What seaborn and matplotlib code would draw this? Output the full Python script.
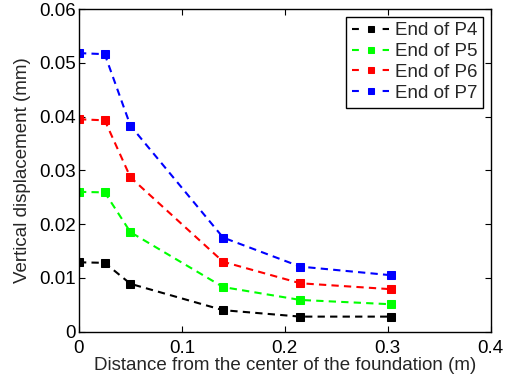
import matplotlib
matplotlib.use("Agg")
import matplotlib.pyplot as plt
import seaborn as sns
import pandas as pd

distance = [0.0, 0.025, 0.05, 0.14, 0.215, 0.303]
p4 = [0.0129, 0.0128, 0.0089, 0.0040, 0.0028, 0.0028]
p5 = [0.0260, 0.0259, 0.0185, 0.0083, 0.0059, 0.0051]
p6 = [0.0395, 0.0393, 0.0287, 0.0130, 0.0090, 0.0079]
p7 = [0.0518, 0.0516, 0.0383, 0.0175, 0.0121, 0.0105]
series_names = ["End of P4", "End of P5", "End of P6", "End of P7"]
colors = ["#000000", "#00ff00", "#ff0000", "#0000ff"]
x_ticks = [0, 0.1, 0.2, 0.3, 0.4]
y_ticks = [0, 0.01, 0.02, 0.03, 0.04, 0.05, 0.06]

sns.set_style("ticks")
plt.rcParams["font.family"] = ["Liberation Sans", "DejaVu Sans"]

FS = 13.5
fig = plt.figure(figsize=(5.08, 3.83), dpi=100)
ax = fig.add_axes([0.1555, 0.134, 0.8105, 0.8425])

for name, vals, c in zip(series_names, [p4, p5, p6, p7], colors):
    df = pd.DataFrame({"x": distance, "y": vals})
    sns.lineplot(data=df, x="x", y="y", ax=ax, color=c, linestyle=(0, (3.5, 2.5)),
                 linewidth=1.5, marker="s", markersize=6, markeredgecolor=c,
                 markerfacecolor=c, label=name)

ax.set_xlim(0, 0.4)
ax.set_ylim(0, 0.06)
ax.set_xticks(x_ticks)
ax.set_xticklabels(["0", "0.1", "0.2", "0.3", "0.4"])
ax.set_yticks(y_ticks)
ax.set_yticklabels(["0", "0.01", "0.02", "0.03", "0.04", "0.05", "0.06"])
ax.tick_params(direction="in", top=True, right=True, length=4, width=0.8,
               labelsize=FS, colors="black")
ax.tick_params(axis="x", pad=6)
ax.tick_params(axis="y", pad=2)
for s in ax.spines.values():
    s.set_visible(True)
    s.set_linewidth(1.0)
    s.set_color("black")
ax.set_xlabel("Distance from the center of the foundation (m)", fontsize=FS, labelpad=0)
ax.set_ylabel("Vertical displacement (mm)", fontsize=FS, labelpad=6)

leg = ax.legend(loc="upper right", fontsize=FS, frameon=True, fancybox=False,
                edgecolor="black", handlelength=2.0, handletextpad=0.3,
                borderpad=0.3, labelspacing=0.2, borderaxespad=0.4)
leg.get_frame().set_linewidth(1.0)
leg.get_frame().set_alpha(1)
for ln in leg.get_lines():
    ln.set_linestyle((0, (3.3, 11.4)))
    ln.set_markersize(5)

fig.savefig("out.png", dpi=100)
